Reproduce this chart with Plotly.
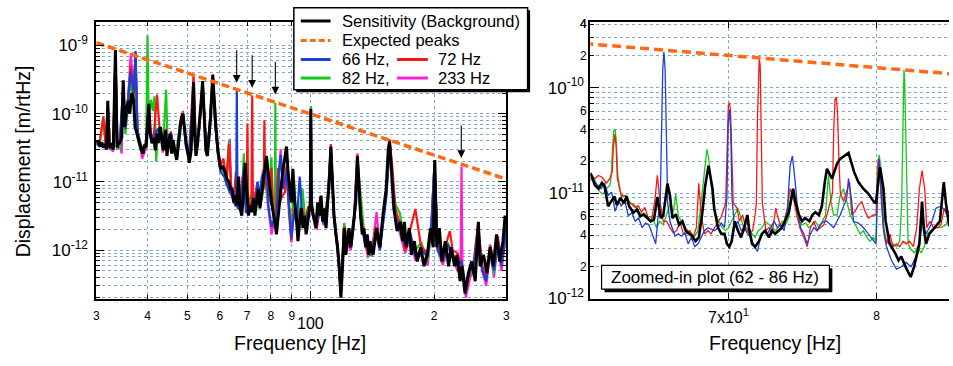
import math
import plotly.graph_objects as go

PM = 1e-12  # all series values are in units of 1e-12 m/rtHz

# ---------------- Left panel (30 - 300 Hz): (frequency [Hz], displacement [1e-12 m/rtHz])
LEFT_BLACK = [
    (30.0, 37), (30.36, 40), (30.64, 33), (30.93, 38), (31.2, 32), (31.5, 36), (31.8, 30), (32.0, 155),
    (32.2, 40), (32.4, 31), (32.7, 37), (33.0, 30), (33.4, 860), (33.7, 32), (33.9, 36), (34.2, 37),
    (34.6, 45), (34.9, 310), (35.2, 64), (35.5, 110), (35.9, 155), (36.2, 100), (36.6, 200), (37.0, 160),
    (37.3, 64), (37.7, 51), (38.0, 40), (38.3, 37), (38.6, 30), (39.0, 26), (39.3, 35), (39.7, 32),
    (40.0, 89), (40.3, 140), (40.6, 51), (41.0, 37), (41.4, 44), (41.8, 29), (42.2, 51), (42.5, 37),
    (43.0, 64), (43.3, 44), (43.7, 29), (44.2, 57), (44.6, 24), (45.0, 37), (45.4, 51), (45.8, 26),
    (46.2, 41), (46.6, 29), (47.1, 21), (47.5, 32), (48.0, 64), (48.4, 89), (48.8, 100), (49.2, 57),
    (49.7, 37), (50.2, 26), (50.6, 19), (51.1, 29), (51.8, 290), (52.1, 51), (52.5, 24), (53.0, 37),
    (53.5, 64), (54.0, 140), (54.5, 300), (55.0, 89), (55.5, 29), (56.0, 24), (56.5, 41), (57.0, 89),
    (57.7, 370), (58.2, 120), (58.7, 64), (59.4, 29), (60.3, 15.5), (61.0, 17), (61.9, 13.7), (62.5, 11),
    (63.2, 10), (63.8, 7.9), (64.3, 7.9), (64.9, 5.0), (65.5, 6.3), (66.1, 4.5), (66.7, 12), (67.3, 4.1),
    (67.9, 3.2), (68.5, 6.3), (69.2, 19), (69.8, 7.9), (70.5, 3.2), (71.1, 4.5), (71.8, 3.6), (72.5, 5.8),
    (73.1, 3.2), (73.8, 5.0), (74.5, 7.9), (75.2, 4.1), (75.9, 6.3), (76.6, 9.8), (77.3, 15.5), (78.0, 24),
    (78.8, 13.7), (79.5, 7.9), (80.3, 5.0), (81.0, 3.6), (81.8, 2.6), (82.5, 1.7), (83.3, 3.2), (84.1, 6.3),
    (84.9, 9.8), (85.7, 15.5), (86.5, 24), (87.3, 33), (88.1, 13.7), (88.9, 7.9), (89.7, 5.0), (90.5, 15.5),
    (91.4, 5.0), (92.2, 3.2), (93.1, 1.35), (94.0, 2.6), (94.9, 4.1), (95.7, 2.1), (96.6, 3.2), (97.5, 1.7),
    (98.4, 2.6), (99.4, 4.1), (99.8, 5.0), (100.1, 118), (100.4, 5.0), (101.5, 3.2), (103.0, 2.1), (104.0, 5.0),
    (105.0, 3.2), (106.0, 6.3), (107.0, 2.6), (108.0, 4.1), (109.0, 2.1), (110.0, 5.0), (111.0, 9.8), (112.0, 33),
    (113.0, 7.9), (114.0, 3.2), (115.2, 1.7), (116.3, 1.1), (117.4, 0.58), (118.5, 0.2), (119.6, 0.58), (120.7, 2.1),
    (121.8, 0.85), (123.0, 1.35), (124.0, 2.1), (125.3, 1.1), (126.4, 1.7), (127.6, 2.6), (128.8, 5.0), (130.0, 24),
    (131.2, 7.9), (132.4, 3.2), (133.6, 1.7), (134.9, 2.1), (136.1, 1.1), (137.4, 1.7), (138.7, 0.85), (139.5, 1.35),
    (142, 0.85), (144.8, 2.1), (147.5, 1.1), (150, 3.2), (152.8, 7.9), (154.6, 30), (155.8, 39), (157.3, 17),
    (159.5, 4.1), (162.5, 1.9), (165.5, 2.6), (167.5, 1.35), (169.3, 2.6), (171, 1.1), (174, 2.1), (176, 0.85),
    (179, 1.35), (182, 0.68), (185.5, 1.1), (189, 0.58), (192.5, 0.85), (196, 2.1), (199, 1.1), (200.8, 21),
    (203, 1.1), (206, 2.1), (209, 0.68), (213, 1.35), (217, 0.58), (220, 1.1), (224.5, 0.58), (227.5, 0.85),
    (231.5, 0.35), (234, 0.58), (238, 0.23), (242.5, 0.46), (247, 0.68), (252, 0.35), (256.5, 2.6), (259, 0.58),
    (264, 0.85), (269, 0.46), (274, 1.1), (279, 0.58), (284, 1.7), (289, 0.68), (294.5, 1.35), (298, 3.2),
    (300, 2.5),
]

LEFT_BLUE = [
    (30.0, 36), (30.6, 33), (31.2, 35), (31.8, 32), (32.0, 120), (32.3, 34), (33.0, 31), (33.4, 700),
    (33.7, 33), (34.2, 38), (34.9, 250), (35.3, 60), (35.8, 140), (36.4, 420), (37.0, 200), (37.4, 830),
    (37.8, 60), (38.4, 35), (39.0, 28), (39.6, 34), (40.2, 120), (40.7, 50), (41.4, 40), (42.0, 55),
    (42.8, 62), (43.6, 30), (44.3, 58), (45.0, 35), (45.6, 52), (46.4, 30), (47.3, 28), (48.0, 70),
    (48.8, 95), (49.6, 35), (50.5, 22), (51.8, 250), (52.5, 30), (53.5, 70), (54.5, 260), (55.6, 30),
    (56.6, 60), (57.7, 330), (58.4, 80), (59.4, 25), (60.3, 14), (61.5, 12), (62.5, 9), (63.5, 7),
    (64.5, 6), (65.5, 4.5), (65.8, 4.5), (66.05, 230), (66.3, 4.2), (67.5, 3.8), (68.6, 15), (69.5, 3.5),
    (70.5, 4), (71.5, 3.8), (72.5, 4.5), (73.5, 5.5), (74.2, 10), (75.0, 6), (76.0, 12), (77.0, 14),
    (78.0, 20), (79.0, 4), (80.3, 2.2), (81.5, 3), (82.5, 2.5), (83.5, 12), (84.5, 25), (85.5, 8),
    (87.3, 14), (88.5, 4), (89.7, 1.5), (91.0, 3.5), (92.5, 2.5), (94.0, 12), (95.5, 3), (97.0, 2.5),
    (98.5, 3.5), (99.8, 4), (100.1, 110), (100.4, 4), (101.5, 3), (103.5, 2.5), (105.5, 4), (107.5, 2.5),
    (110, 5), (112, 30), (114, 3), (116.3, 1.0), (118.5, 0.25), (120.7, 2), (123, 1.3), (125.3, 1.2),
    (127.5, 2.5), (130, 20), (132.4, 3), (135, 1.5), (138, 1.0), (141, 0.9), (144, 1.8), (147.5, 1.0),
    (150.5, 3), (153, 6), (155.8, 35), (158, 12), (161, 3), (165, 2), (170, 1.2), (175, 1.8),
    (180, 0.8), (186, 1.0), (193, 0.8), (197, 2.5), (200.5, 18), (204, 1.0), (210, 0.7), (216, 1.2),
    (222, 0.9), (228, 0.6), (233, 0.7), (239, 0.3), (245, 0.5), (250, 0.6), (256, 2), (262, 0.5),
    (268, 0.35), (274, 1.0), (280, 0.5), (286, 1.3), (292, 0.6), (297, 1.2), (300, 2.5),
]

LEFT_RED = [
    (30.0, 38), (30.6, 40), (31.2, 90), (31.6, 35), (32.0, 140), (32.4, 33), (33.0, 32), (33.4, 780),
    (33.8, 34), (34.3, 40), (34.9, 290), (35.3, 66), (35.8, 150), (36.4, 500), (37.0, 190), (37.4, 780),
    (37.8, 55), (38.4, 38), (39.0, 27), (39.6, 36), (40.2, 130), (40.7, 52), (41.4, 45), (42.2, 190),
    (42.8, 60), (43.6, 32), (44.3, 60), (45.0, 38), (45.6, 55), (46.4, 32), (47.3, 25), (48.0, 75),
    (48.8, 100), (49.6, 38), (50.5, 24), (51.8, 380), (52.5, 35), (53.5, 65), (54.5, 280), (55.6, 30),
    (56.6, 50), (57.7, 380), (58.4, 110), (59.4, 28), (60.3, 18), (61.3, 22), (62.3, 10), (63.2, 36),
    (64.0, 8), (65.0, 6), (65.7, 14), (66.5, 5), (67.5, 4.5), (68.2, 12), (69.0, 5), (69.8, 5),
    (70.1, 72), (70.4, 5), (71.0, 4.5), (71.7, 4.5), (72.0, 185), (72.3, 5), (73.0, 6), (74.2, 10),
    (75.0, 5), (76.0, 8), (76.8, 8), (77.1, 80), (77.4, 9), (78.0, 10), (79.0, 6), (80.2, 16),
    (81.0, 3.5), (82.0, 3.0), (83.3, 16), (84.2, 5), (85.0, 6), (86.5, 7), (87.3, 16), (88.5, 4),
    (89.7, 1.4), (91, 4), (92.5, 3), (94, 2.5), (95.5, 4), (97, 2.4), (98.5, 4.2), (99.8, 4),
    (100.1, 115), (100.4, 4), (101.5, 3.2), (103.5, 2.2), (105.5, 6), (107.5, 2.8), (110, 5.5), (112, 36),
    (114, 3.5), (116.3, 1.2), (118.5, 0.22), (120.7, 2.2), (123, 1.4), (125.3, 1.1), (127.5, 2.8), (130, 26),
    (132.4, 3.5), (135, 1.6), (138, 0.9), (141, 1.0), (144, 2.2), (147.5, 1.1), (150.5, 3.5), (153, 8),
    (155.8, 42), (158, 18), (161, 4), (165, 2.5), (170, 1.0), (175, 2), (180, 4.0), (186, 1.1),
    (193, 0.9), (197, 2.2), (200.5, 20), (204, 1.2), (210, 0.8), (216, 1.5), (218.5, 1.9), (222, 1.0),
    (228, 0.9), (233, 0.6), (239, 0.25), (245, 0.5), (250, 0.7), (256, 2.4), (262, 0.6), (268, 0.4),
    (274, 1.2), (280, 0.6), (286, 1.6), (292, 0.7), (297, 1.4), (300, 3.0),
]

LEFT_GREEN = [
    (30.0, 40), (30.6, 37), (31.2, 90), (31.6, 38), (32.0, 130), (32.4, 35), (33.0, 30), (33.4, 700),
    (33.8, 30), (34.3, 32), (34.9, 260), (35.3, 50), (35.8, 120), (36.4, 300), (37.0, 150), (37.4, 500),
    (37.8, 45), (38.4, 30), (39.0, 30), (39.7, 40), (40.0, 1400), (40.25, 100), (40.8, 160), (41.2, 110),
    (41.6, 180), (42.0, 20), (42.4, 60), (43.0, 55), (43.6, 30), (44.4, 225), (44.8, 30), (45.4, 50),
    (46.2, 28), (47.0, 30), (48.0, 65), (48.8, 90), (49.6, 36), (50.5, 25), (51.8, 230), (52.5, 30),
    (53.5, 60), (54.5, 250), (55.6, 28), (56.6, 45), (57.7, 340), (58.4, 90), (59.0, 40), (59.4, 28),
    (60.3, 16), (61.3, 14), (62.3, 11), (63.2, 40), (64.0, 8), (65.0, 6), (66.0, 5), (66.8, 10),
    (67.8, 4), (68.7, 26), (69.5, 5), (70.5, 4.5), (71.5, 6.5), (72.5, 5), (73.5, 4.8), (74.3, 9.5),
    (75.0, 5.3), (76.0, 5.5), (77.0, 10), (78.0, 8), (79.0, 5), (80.2, 23), (81.0, 3), (81.75, 3),
    (82.0, 145), (82.25, 3), (83.5, 5), (84.5, 6), (85.5, 14), (87.3, 15), (88.5, 4), (89.7, 1.6),
    (91.0, 10), (92.5, 2.8), (94.0, 3.5), (95.5, 8), (97.0, 2.8), (98.5, 4), (99.8, 4), (100.1, 130),
    (100.4, 4), (101.5, 3.5), (103.5, 2.5), (105.5, 5), (107.5, 2.6), (110, 6), (112, 28), (114, 3),
    (116.3, 1.1), (118.5, 0.24), (120.7, 2.5), (123, 1.3), (125.3, 1.2), (127.5, 3.0), (130, 22), (132.4, 6),
    (135, 1.8), (138, 1.1), (141, 0.8), (144, 2.0), (147.5, 1.2), (150.5, 3.2), (153, 7), (155.8, 38),
    (158, 14), (160, 5), (165, 3.5), (170, 1.2), (175, 1.6), (180, 1.0), (186, 1.3), (193, 0.7),
    (197, 2.0), (200.5, 19), (204, 1.0), (210, 0.7), (216, 1.3), (222, 0.8), (228, 0.7), (233, 0.5),
    (239, 0.3), (245, 0.45), (250, 0.55), (256, 2.2), (262, 0.5), (268, 0.4), (274, 1.0), (280, 0.45),
    (286, 1.4), (292, 0.6), (297, 1.3), (300, 2.8),
]

LEFT_MAGENTA = [
    (30.0, 36), (30.6, 35), (31.2, 33), (31.8, 30), (32.0, 130), (32.4, 31), (33.0, 28), (33.4, 700),
    (33.8, 31), (34.3, 33), (34.6, 26), (34.9, 280), (35.3, 55), (35.8, 140), (36.4, 770), (37.0, 220),
    (37.4, 650), (37.8, 50), (38.4, 33), (38.8, 22), (39.6, 30), (40.2, 110), (40.7, 45), (41.4, 38),
    (42.0, 50), (42.8, 58), (43.6, 27), (44.3, 55), (45.0, 33), (45.6, 48), (46.4, 27), (47.3, 22),
    (48.0, 70), (48.8, 110), (49.6, 33), (50.5, 21), (51.8, 260), (52.5, 28), (53.5, 60), (54.5, 290),
    (55.6, 25), (56.6, 55), (57.7, 350), (58.4, 85), (59.4, 26), (60.3, 14), (61.3, 18), (62.3, 9),
    (63.5, 43), (64.0, 7), (65.0, 4.8), (66.0, 5.5), (67.0, 4), (68.0, 6), (68.6, 17), (69.5, 4.5),
    (70.5, 4.2), (71.5, 5), (72.5, 4.2), (73.5, 5), (74.5, 8), (75.5, 6), (76.5, 15), (77.5, 12),
    (78.5, 5), (79.5, 3), (80.3, 1.7), (81.5, 2.8), (82.5, 8), (83.5, 12), (84.5, 30), (85.5, 8),
    (87.3, 17), (88.5, 3.5), (89.7, 1.3), (91.0, 3.5), (92.5, 2.5), (94.0, 4), (95.5, 3), (97.0, 2.6),
    (98.5, 3.5), (99.8, 4), (100.1, 112), (100.4, 4), (101.5, 3.0), (103.5, 2.0), (105.5, 4.5), (107.5, 2.3),
    (110, 4.5), (112, 32), (114, 3), (116.3, 1.0), (118.5, 0.21), (120.7, 2), (123, 1.2), (125.3, 1.0),
    (127.5, 2.4), (130, 22), (132.4, 3), (135, 1.4), (138, 0.8), (141, 0.9), (144.8, 3.6), (147.5, 1.0),
    (150.5, 3.0), (153, 6.5), (155.8, 40), (158, 13), (161, 3.5), (165, 1.8), (170, 0.9), (175, 1.5),
    (180, 0.7), (186, 0.9), (193, 0.6), (197, 2.3), (200.5, 19), (204, 1.0), (210, 0.6), (216, 1.1),
    (222, 0.8), (228, 0.5), (232, 0.5), (233.3, 17), (234.6, 0.5), (239, 0.2), (245, 0.4), (250, 0.5),
    (256, 2.4), (262, 0.5), (268, 0.3), (274, 0.9), (280, 0.4), (286, 1.2), (292, 0.5), (297, 1.1),
    (300, 2.6),
]

# ---------------- Right panel (zoom 62 - 86 Hz)
RIGHT_BLACK = [
    (61.8, 15.5), (61.85, 14.9), (62.05, 11.9), (62.25, 11.0), (62.45, 12.5), (62.6, 11.5), (62.8, 7.5),
    (63.0, 8.5), (63.15, 9.3), (63.3, 7.7), (63.5, 9.0), (63.7, 8.0), (63.85, 9.3), (64.0, 7.5), (64.25, 6.5),
    (64.45, 7.0), (64.65, 6.0), (64.85, 6.3), (65.05, 5.8), (65.25, 5.4), (65.45, 5.6), (65.65, 9.2),
    (65.85, 5.8), (66.0, 6.1), (66.25, 12.3), (66.4, 9.5), (66.55, 5.8), (66.75, 6.3), (66.95, 5.0),
    (67.15, 5.4), (67.35, 4.4), (67.55, 4.1), (67.75, 3.9), (67.95, 3.5), (68.15, 3.8), (68.35, 6.2),
    (68.55, 11.9), (68.75, 18.2), (68.9, 12.7), (69.0, 11.0), (69.1, 7.2), (69.2, 6.2), (69.34, 4.7),
    (69.55, 4.1), (69.75, 4.1), (69.9, 3.3), (70.05, 3.1), (70.2, 3.5), (70.4, 5.4), (70.6, 4.4),
    (70.8, 3.8), (71.0, 4.7), (71.2, 6.2), (71.3, 4.7), (71.5, 3.3), (71.7, 3.1), (71.95, 3.5),
    (72.15, 4.1), (72.35, 4.4), (72.6, 3.8), (72.8, 4.4), (73.0, 4.1), (73.2, 4.4), (73.45, 4.7),
    (73.65, 5.4), (73.9, 6.5), (74.2, 11.0), (74.35, 8.3), (74.6, 6.2), (74.8, 5.4), (75.0, 5.8),
    (75.3, 5.4), (75.5, 6.2), (75.7, 6.6), (75.95, 6.2), (76.15, 7.5), (76.35, 12.7), (76.5, 17.0),
    (76.85, 13.7), (77.2, 19.0), (77.4, 21.0), (77.75, 22.5), (78.0, 24.0), (78.4, 15.8), (78.7, 12.7),
    (79.05, 11.0), (79.4, 9.9), (79.8, 8.3), (79.95, 8.0), (80.1, 12.0), (80.25, 17.6), (80.5, 11.0),
    (80.65, 5.5), (80.95, 3.3), (81.35, 2.7), (81.6, 2.3), (81.8, 2.5), (82.2, 1.9), (82.4, 1.7),
    (82.5, 1.6), (82.75, 2.0), (83.15, 3.3), (83.35, 8.3), (83.5, 4.4), (83.65, 3.3), (83.9, 4.1),
    (84.3, 4.7), (84.7, 5.4), (85.0, 12.7), (85.15, 8.3), (85.4, 5.0), (85.8, 5.2),
]

RIGHT_BLUE = [
    (61.8, 14.5), (61.9, 14.5), (62.1, 12.4), (62.4, 11.0), (62.6, 12.4), (62.8, 9.5), (63.0, 10.2),
    (63.2, 6.7), (63.4, 8.5), (63.55, 7.5), (63.75, 8.5), (63.95, 6.1), (64.15, 6.5), (64.35, 5.4),
    (64.55, 5.8), (64.75, 4.7), (64.95, 5.2), (65.15, 5.0), (65.35, 4.1), (65.55, 3.3), (65.7, 6.1),
    (65.82, 8.0), (65.9, 40), (65.97, 150), (66.04, 219), (66.11, 150), (66.18, 40), (66.26, 8.0),
    (66.4, 5.4), (66.7, 3.9), (66.9, 4.1), (67.1, 3.9), (67.3, 4.2), (67.5, 3.3), (67.7, 3.8), (67.9, 3.1),
    (68.1, 3.3), (68.3, 3.8), (68.5, 4.4), (68.72, 4.7), (68.9, 4.6), (69.13, 4.4), (69.34, 4.7),
    (69.55, 5.2), (69.75, 4.7), (69.9, 9.0), (69.98, 45), (70.06, 62), (70.14, 40), (70.22, 9.0),
    (70.38, 4.7), (70.59, 5.4), (70.8, 4.4), (71.0, 4.7), (71.22, 4.1), (71.43, 3.8), (71.65, 3.1),
    (71.86, 2.8), (72.08, 4.1), (72.3, 4.4), (72.5, 4.1), (72.72, 4.7), (72.94, 5.4), (73.16, 4.7),
    (73.38, 5.0), (73.6, 4.4), (73.82, 7.2), (74.0, 18.2), (74.15, 22.5), (74.3, 14.5), (74.48, 7.7),
    (74.7, 4.7), (74.92, 4.1), (75.15, 3.3), (75.37, 4.1), (75.6, 4.7), (75.82, 4.4), (76.05, 5.0),
    (76.28, 5.4), (76.5, 5.4), (76.96, 4.7), (77.42, 6.2), (77.88, 9.0), (78.0, 13.7), (78.23, 8.3),
    (78.35, 5.4), (78.7, 5.2), (79.06, 4.7), (79.41, 4.1), (79.77, 3.5), (79.96, 3.3), (80.1, 12.0),
    (80.19, 21.0), (80.35, 8.3), (80.55, 4.0), (80.72, 3.1), (81.08, 2.3), (81.45, 1.9), (81.81, 2.0),
    (82.17, 2.2), (82.53, 2.0), (82.9, 2.5), (83.15, 3.5), (83.4, 5.4), (83.65, 4.1), (84.02, 5.0),
    (84.4, 7.2), (84.78, 7.5), (85.17, 6.7), (85.4, 6.7), (85.8, 6.7),
]

RIGHT_RED = [
    (61.8, 13.0), (61.85, 13.8), (62.07, 13.8), (62.25, 14.7), (62.44, 14.2), (62.7, 12.4), (62.9, 13.8),
    (63.03, 16), (63.1, 28), (63.18, 36), (63.25, 28), (63.32, 14), (63.45, 11.0), (63.55, 9.3),
    (63.76, 9.5), (63.95, 8.5), (64.14, 7.9), (64.33, 7.3), (64.53, 7.6), (64.72, 6.6), (64.91, 7.3),
    (65.11, 5.8), (65.3, 5.4), (65.5, 8.5), (65.65, 14.7), (65.8, 8.5), (66.0, 5.4), (66.2, 5.4),
    (66.4, 4.7), (66.6, 4.2), (66.8, 4.4), (67.0, 5.4), (67.2, 4.1), (67.4, 4.1), (67.6, 4.4), (67.8, 3.8),
    (68.0, 4.7), (68.15, 12.4), (68.3, 6.1), (68.5, 4.1), (68.72, 4.4), (68.9, 4.1), (69.13, 4.7),
    (69.34, 5.4), (69.55, 6.0), (69.82, 8.0), (69.92, 35), (69.99, 68), (70.06, 72), (70.13, 60),
    (70.2, 25), (70.3, 8.0), (70.54, 7.2), (70.69, 5.4), (70.9, 6.2), (71.1, 4.7), (71.33, 4.1),
    (71.54, 4.4), (71.7, 6.2), (71.78, 8.0), (71.85, 50), (71.92, 160), (71.97, 190), (72.03, 160),
    (72.1, 50), (72.17, 8.0), (72.4, 4.4), (72.6, 4.7), (72.8, 4.1), (73.05, 7.2), (73.2, 5.8),
    (73.4, 4.7), (73.6, 5.4), (73.82, 7.2), (74.0, 11.0), (74.2, 9.5), (74.44, 6.2), (74.65, 4.7),
    (74.92, 3.8), (75.15, 3.1), (75.37, 4.7), (75.6, 5.4), (75.82, 4.4), (76.05, 4.7), (76.28, 5.0),
    (76.5, 6.2), (76.7, 8.0), (76.88, 10), (76.97, 40), (77.06, 78), (77.14, 81), (77.23, 60),
    (77.33, 20), (77.43, 10), (77.65, 8.3), (77.88, 10.3), (78.07, 12.7), (78.23, 6.2), (78.47, 6.7),
    (78.7, 7.7), (78.94, 8.3), (79.18, 6.7), (79.41, 5.8), (79.77, 6.2), (79.96, 6.2), (80.12, 21.0),
    (80.28, 14.7), (80.48, 4.7), (80.72, 3.3), (80.96, 4.1), (81.2, 3.1), (81.45, 3.3), (81.69, 3.1),
    (81.93, 3.5), (82.17, 3.3), (82.41, 3.5), (82.7, 3.1), (82.95, 4.7), (83.15, 11.0), (83.35, 16.3),
    (83.55, 11.0), (83.7, 4.7), (83.95, 5.4), (84.2, 4.7), (84.53, 4.7), (84.78, 5.0), (85.04, 7.2),
    (85.22, 6.2), (85.4, 6.7), (85.8, 6.5),
]

RIGHT_GREEN = [
    (61.8, 15.0), (61.97, 14.2), (62.16, 11.9), (62.35, 10.2), (62.5, 9.8), (62.7, 11.0), (62.9, 11.9),
    (62.98, 14.7), (63.05, 28), (63.12, 39), (63.2, 40), (63.27, 30), (63.35, 14.7), (63.5, 10.2),
    (63.7, 9.3), (63.85, 9.5), (64.05, 8.0), (64.25, 7.8), (64.45, 7.3), (64.6, 6.6), (64.8, 6.1),
    (65.0, 5.8), (65.2, 6.0), (65.4, 5.6), (65.6, 4.7), (65.8, 5.4), (66.0, 5.0), (66.2, 6.1), (66.4, 7.8),
    (66.6, 6.6), (66.75, 9.8), (66.9, 6.1), (67.1, 5.4), (67.3, 4.7), (67.5, 4.4), (67.7, 4.1), (67.9, 3.9),
    (68.1, 4.4), (68.3, 8.5), (68.5, 18), (68.65, 26), (68.75, 22), (68.9, 13), (69.02, 8.3), (69.2, 6.2),
    (69.4, 5.4), (69.6, 4.7), (69.8, 4.4), (70.0, 4.7), (70.2, 5.4), (70.4, 6.2), (70.6, 7.2), (70.8, 5.8),
    (71.0, 4.4), (71.3, 4.7), (71.5, 4.1), (71.7, 3.8), (71.9, 4.4), (72.15, 4.7), (72.35, 5.4), (72.6, 5.0),
    (72.8, 4.7), (73.05, 4.4), (73.3, 5.0), (73.5, 5.4), (73.7, 5.0), (73.9, 5.8), (74.15, 9.5), (74.4, 7.2),
    (74.6, 5.4), (74.8, 5.0), (75.05, 5.2), (75.25, 4.7), (75.5, 5.0), (75.7, 5.4), (75.95, 4.7),
    (76.15, 5.4), (76.4, 6.2), (76.6, 14.7), (76.78, 8.3), (76.96, 6.2), (77.19, 6.2), (77.42, 9.5),
    (77.65, 11.0), (77.88, 8.3), (78.12, 6.2), (78.35, 5.4), (78.59, 4.7), (78.82, 4.1), (79.06, 4.4),
    (79.3, 3.8), (79.53, 3.5), (79.77, 3.8), (79.96, 3.5), (80.05, 17), (80.19, 23), (80.35, 15.8),
    (80.52, 4.7), (80.72, 3.5), (80.96, 3.3), (81.2, 3.3), (81.45, 3.1), (81.69, 3.5), (81.83, 8.0),
    (81.9, 40), (81.96, 120), (82.0, 148), (82.05, 120), (82.12, 40), (82.2, 8.0), (82.31, 3.3),
    (82.53, 2.9), (82.78, 2.7), (83.02, 3.1), (83.27, 2.7), (83.52, 3.1), (83.77, 4.1), (84.02, 4.4),
    (84.4, 4.7), (84.78, 4.7), (85.17, 5.0), (85.4, 6.2), (85.8, 6.2),
]

# Expected-peak line (straight in log-log): two end points
EXPECTED_F = [30, 300]
EXPECTED_V = [1100, 11]

# Arrows marking the injected peaks (frequency, arrow-tip level)
ARROW_F = [66, 72, 82, 233]
ARROW_V = [284, 241, 191, 22.4]

LEFT_XTICKS = [30, 40, 50, 60, 70, 80, 90, 200, 300]
LEFT_XTEXT = ['3', '4', '5', '6', '7', '8', '9', '2', '3']
RIGHT_YLABEL_MULT = [2, 4, 6]

# ---------------- styling
W, H = 953, 366
FONT = 'Liberation Sans, Arial, Helvetica, sans-serif'
GRID = '#82a8cf'
C_BLACK = '#000000'
C_BLUE = '#1c3fd6'
C_RED = '#ff1414'
C_GREEN = '#18c818'
C_MAGENTA = '#ff1ed2'
C_ORANGE = '#ff6a12'


def px(x):
    return x / W


def py(y):
    return 1 - y / H


def split(series):
    return [p[0] for p in series], [p[1] * PM for p in series]


fig = go.Figure()


def add_line(series, color, width, xa, ya, dash=None):
    xs, ys = split(series)
    fig.add_trace(go.Scatter(x=xs, y=ys, mode='lines', xaxis=xa, yaxis=ya,
                             line=dict(color=color, width=width, dash=dash),
                             hoverinfo='skip', showlegend=False))


expected = list(zip(EXPECTED_F, EXPECTED_V))

add_line(LEFT_MAGENTA, C_MAGENTA, 2.2, 'x', 'y')
add_line(LEFT_GREEN, C_GREEN, 2.2, 'x', 'y')
add_line(LEFT_RED, C_RED, 2.2, 'x', 'y')
add_line(LEFT_BLUE, C_BLUE, 2.2, 'x', 'y')
add_line(LEFT_BLACK, C_BLACK, 3, 'x', 'y')
add_line(expected, C_ORANGE, 3.5, 'x', 'y', dash='8px,4px')

add_line(RIGHT_GREEN, C_GREEN, 1.3, 'x2', 'y2')
add_line(RIGHT_RED, C_RED, 1.3, 'x2', 'y2')
add_line(RIGHT_BLUE, C_BLUE, 1.3, 'x2', 'y2')
add_line(RIGHT_BLACK, C_BLACK, 2.6, 'x2', 'y2')
add_line(expected, C_ORANGE, 3.5, 'x2', 'y2', dash='9px,5px')


def multiples(lo_exp, hi_exp, mults):
    return [m * 10.0 ** e for e in range(lo_exp, hi_exp) for m in mults]


left_decades = [1e-12, 1e-11, 1e-10, 1e-9]
left_minor = [v for v in multiples(-13, -8, range(2, 10)) if 1.8e-13 <= v <= 2.3e-9]
right_decades = [1e-12, 1e-11, 1e-10]
right_minor = [v for v in multiples(-12, -9, range(2, 10)) if v <= 4.3e-10]

axis_common = dict(showline=True, linecolor='black', linewidth=2, ticks='inside',
                   tickcolor='black', tickwidth=1.3, showgrid=True, gridcolor=GRID,
                   griddash='dot', gridwidth=1, zeroline=False)
minor_common = dict(tickmode='array', ticks='inside', ticklen=4, tickcolor='black', tickwidth=1.1,
                    showgrid=True, gridcolor=GRID, griddash='dot', gridwidth=1)

Y_TOP, Y_BOT = 22.5, 306.7

fig.update_layout(
    width=W, height=H, margin=dict(l=0, r=0, t=0, b=0),
    paper_bgcolor='white', plot_bgcolor='white',
    font=dict(family=FONT, color='black'), showlegend=False,
    xaxis=dict(type='log', domain=[px(94), px(507)], range=[math.log10(30), math.log10(300)],
               tickmode='array', tickvals=LEFT_XTICKS, ticktext=LEFT_XTEXT, ticklen=4,
               tickfont=dict(size=12), mirror='allticks', anchor='y', ticklabelstandoff=4,
               minor=dict(minor_common, tickvals=[100], ticklen=8, tickwidth=1.3),
               **axis_common),
    yaxis=dict(type='log', domain=[py(Y_BOT), py(Y_TOP)], range=[-12.72, -8.654],
               tickmode='array', tickvals=left_decades,
               ticktext=['10<sup>%d</sup>' % round(math.log10(v)) for v in left_decades],
               ticklen=8, tickfont=dict(size=17), mirror='allticks', anchor='x', ticklabelstandoff=3,
               minor=dict(minor_common, tickvals=left_minor),
               **axis_common),
    xaxis2=dict(type='log', domain=[px(591.7), 1.0], range=[math.log10(61.8), math.log10(85.4)],
                tickmode='array', tickvals=[80], ticktext=['8'], ticklen=6,
                tickfont=dict(size=12), mirror='allticks', anchor='y2', ticklabelstandoff=4,
                minor=dict(minor_common, tickvals=[70], ticklen=6, tickwidth=1.3),
                **axis_common),
    yaxis2=dict(type='log', domain=[py(Y_BOT), py(Y_TOP)], range=[-12.006, -9.377],
                tickmode='array', tickvals=right_decades,
                ticktext=['10<sup>%d</sup>' % round(math.log10(v)) for v in right_decades],
                ticklen=9, tickfont=dict(size=17), mirror=False, anchor='x2', ticklabelstandoff=1,
                minor=dict(minor_common, tickvals=right_minor),
                **axis_common),
)

annotations = []
shapes = []

# axis titles
annotations.append(dict(text='Displacement [m/rtHz]', x=px(20.5), y=py(165), xref='paper', yref='paper',
                        textangle=-90, showarrow=False, font=dict(size=19.5),
                        xanchor='center', yanchor='middle'))
for cx in (299, 777.5):
    annotations.append(dict(text='Frequency [Hz]', x=px(cx), y=py(352), xref='paper', yref='paper',
                            showarrow=False, font=dict(size=19.5), xanchor='center', yanchor='middle'))

# lowered decade tick labels
annotations.append(dict(text='100', x=math.log10(100), y=py(331.5), xref='x', yref='paper',
                        showarrow=False, font=dict(size=16), xanchor='center', yanchor='middle'))
annotations.append(dict(text='7x10<sup>1</sup>', x=math.log10(70), y=py(324), xref='x2', yref='paper',
                        showarrow=False, font=dict(size=16), xanchor='center', yanchor='middle'))

# small mantissa labels on the zoomed y axis
for e in (-12, -11, -10):
    for m in RIGHT_YLABEL_MULT:
        v = m * 10.0 ** e
        if v > 4.3e-10:
            continue
        annotations.append(dict(text=str(m), x=px(590), y=math.log10(v), xref='paper', yref='y2',
                                showarrow=False, font=dict(size=12), xanchor='right',
                                yanchor='middle'))
annotations.append(dict(text='4', x=px(590), y=math.log10(4e-10), xref='paper', yref='y2',
                        showarrow=False, font=dict(size=12), xanchor='right', yanchor='middle'))

# arrows
for f, v in zip(ARROW_F, ARROW_V):
    annotations.append(dict(text='', x=math.log10(f), y=math.log10(v * PM), xref='x', yref='y',
                            showarrow=True, ax=0, ay=-34, arrowhead=2, arrowsize=1.4,
                            arrowwidth=1.1, arrowcolor='black'))

# custom legend box
shapes.append(dict(type='rect', xref='paper', yref='paper', x0=px(295.5), x1=px(531), y0=py(94.5),
                   y1=py(10.5), fillcolor='black', line=dict(width=0), layer='above'))
shapes.append(dict(type='rect', xref='paper', yref='paper', x0=px(293), x1=px(528.5), y0=py(92),
                   y1=py(8), fillcolor='white', line=dict(color='black', width=1.5), layer='above'))

legend_rows = [
    (21.5, [(300, 330, C_BLACK, None, 339, 'Sensitivity (Background)')]),
    (41.5, [(300, 330, C_ORANGE, 'dash', 339, 'Expected peaks')]),
    (61, [(300, 330, C_BLUE, None, 339, '66 Hz,'), (397, 428, C_RED, None, 436, '72 Hz')]),
    (80, [(300, 330, C_GREEN, None, 339, '82 Hz,'), (397, 428, C_MAGENTA, None, 436, '233 Hz')]),
]
for yrow, items in legend_rows:
    for x0, x1, col, dash, tx, label in items:
        shapes.append(dict(type='line', xref='paper', yref='paper', x0=px(x0), x1=px(x1),
                           y0=py(yrow), y1=py(yrow), layer='above',
                           line=dict(color=col, width=3, dash='6px,3px' if dash else 'solid')))
        annotations.append(dict(text=label, x=px(tx), y=py(yrow), xref='paper', yref='paper',
                                showarrow=False, font=dict(size=16.5), xanchor='left',
                                yanchor='middle'))

# zoom label box
shapes.append(dict(type='rect', xref='paper', yref='paper', x0=px(606), x1=px(835.5), y0=py(299.5),
                   y1=py(275), fillcolor='black', line=dict(width=0), layer='above'))
shapes.append(dict(type='rect', xref='paper', yref='paper', x0=px(603), x1=px(832.5), y0=py(296.5),
                   y1=py(272), fillcolor='white', line=dict(color='black', width=1.2), layer='above'))
annotations.append(dict(text='Zoomed-in plot (62 - 86 Hz)', x=px(717.5), y=py(284.5), xref='paper',
                        yref='paper', showarrow=False, font=dict(size=17), xanchor='center',
                        yanchor='middle'))

fig.update_layout(annotations=annotations, shapes=shapes)
fig.write_html('out.html', config={'displayModeBar': False},
               post_script="document.body.style.margin='0';document.body.style.padding='0';")
